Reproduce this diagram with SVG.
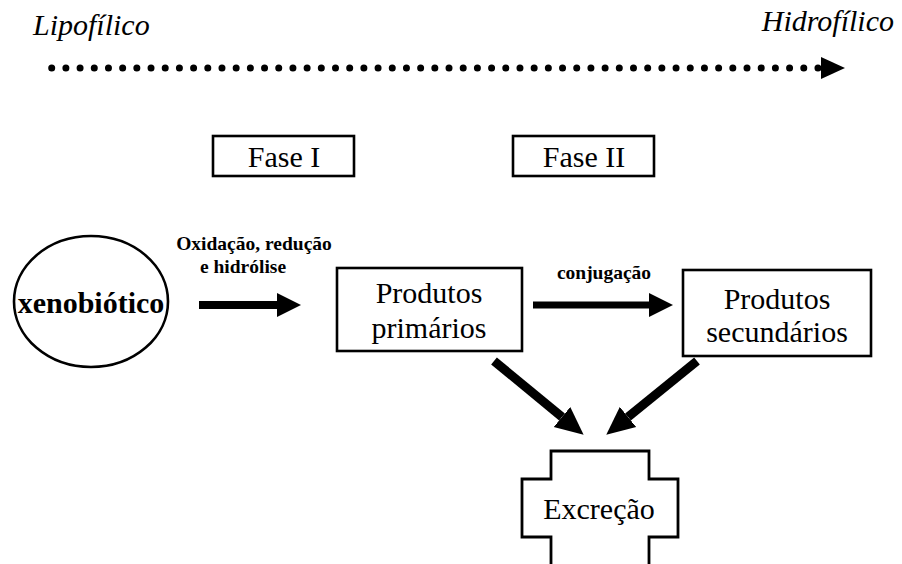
<svg xmlns="http://www.w3.org/2000/svg" width="902" height="564" viewBox="0 0 902 564">
<style>
.s{font-family:'Liberation Serif','Times New Roman',serif;fill:#000}
.big{font-size:30px}
.it{font-style:italic}
.b{font-weight:bold}
.lbl{font-size:19.5px;font-weight:bold}
.box{fill:#fff;stroke:#000;stroke-width:2.6}
.ar{stroke:#000;fill:none}
</style>
<defs>
<marker id="h1" markerUnits="userSpaceOnUse" markerWidth="24" markerHeight="24" refX="0" refY="12" orient="auto" viewBox="0 0 24 24">
<path d="M0,0 L24,12 L0,24 Z" fill="#000"/>
</marker>
<marker id="h2" markerUnits="userSpaceOnUse" markerWidth="28" markerHeight="28" refX="0" refY="13" orient="auto" viewBox="0 0 28 26">
<path d="M0,0 L28,13 L0,26 Z" fill="#000"/>
</marker>
</defs>
<rect width="902" height="564" fill="#fff"/>
<g id="scale">
<text class="s big it" x="33" y="35">Lipofílico</text>
<text class="s big it" x="894" y="31" text-anchor="end">Hidrofílico</text>
<line x1="51.7" y1="68" x2="818" y2="68" stroke="#000" stroke-width="7" stroke-linecap="round" stroke-dasharray="0 14.19"/>
<path d="M821,57 L845,68 L821,79 Z" fill="#000"/>
</g>
<g id="fase1">
<rect class="box" x="213" y="136" width="141" height="40"/>
<text class="s big" x="284" y="167" text-anchor="middle">Fase I</text>
</g>
<g id="fase2">
<rect class="box" x="513" y="136" width="141" height="40"/>
<text class="s big" x="584" y="167" text-anchor="middle">Fase II</text>
</g>
<g id="xenobiotico">
<ellipse cx="91" cy="301.5" rx="77" ry="65.5" fill="#fff" stroke="#000" stroke-width="2.6"/>
<text class="s big b" x="91" y="313" text-anchor="middle">xenobiótico</text>
</g>
<g id="primarios">
<rect class="box" x="337" y="268" width="185" height="83"/>
<text class="s big" x="429" y="303" text-anchor="middle">Produtos</text>
<text class="s big" x="429" y="338" text-anchor="middle">primários</text>
</g>
<g id="secundarios">
<rect class="box" x="683" y="270" width="188" height="86"/>
<text class="s big" x="777" y="309" text-anchor="middle">Produtos</text>
<text class="s big" x="777" y="342" text-anchor="middle">secundários</text>
</g>
<g id="excrecao">
<path d="M551,564 L551,537 L522,537 L522,479 L551,479 L551,451 L649,451 L649,479 L678,479 L678,537 L649,537 L649,564" fill="#fff" stroke="#000" stroke-width="2.8"/>
<text class="s big" x="599" y="519" text-anchor="middle">Excreção</text>
</g>
<g id="connectors">
<line class="ar" x1="199" y1="305" x2="277" y2="305" stroke-width="8" marker-end="url(#h1)"/>
<text class="s lbl" x="254" y="250" text-anchor="middle">Oxidação, redução</text>
<text class="s lbl" x="243" y="273" text-anchor="middle">e hidrólise</text>
<line class="ar" x1="533" y1="305" x2="649" y2="305" stroke-width="7" marker-end="url(#h1)"/>
<text class="s lbl" x="604" y="279" text-anchor="middle">conjugação</text>
<line class="ar" x1="494" y1="361" x2="562" y2="417" stroke-width="9" marker-end="url(#h2)"/>
<line class="ar" x1="697" y1="361" x2="628" y2="417" stroke-width="9" marker-end="url(#h2)"/>
</g>
</svg>
